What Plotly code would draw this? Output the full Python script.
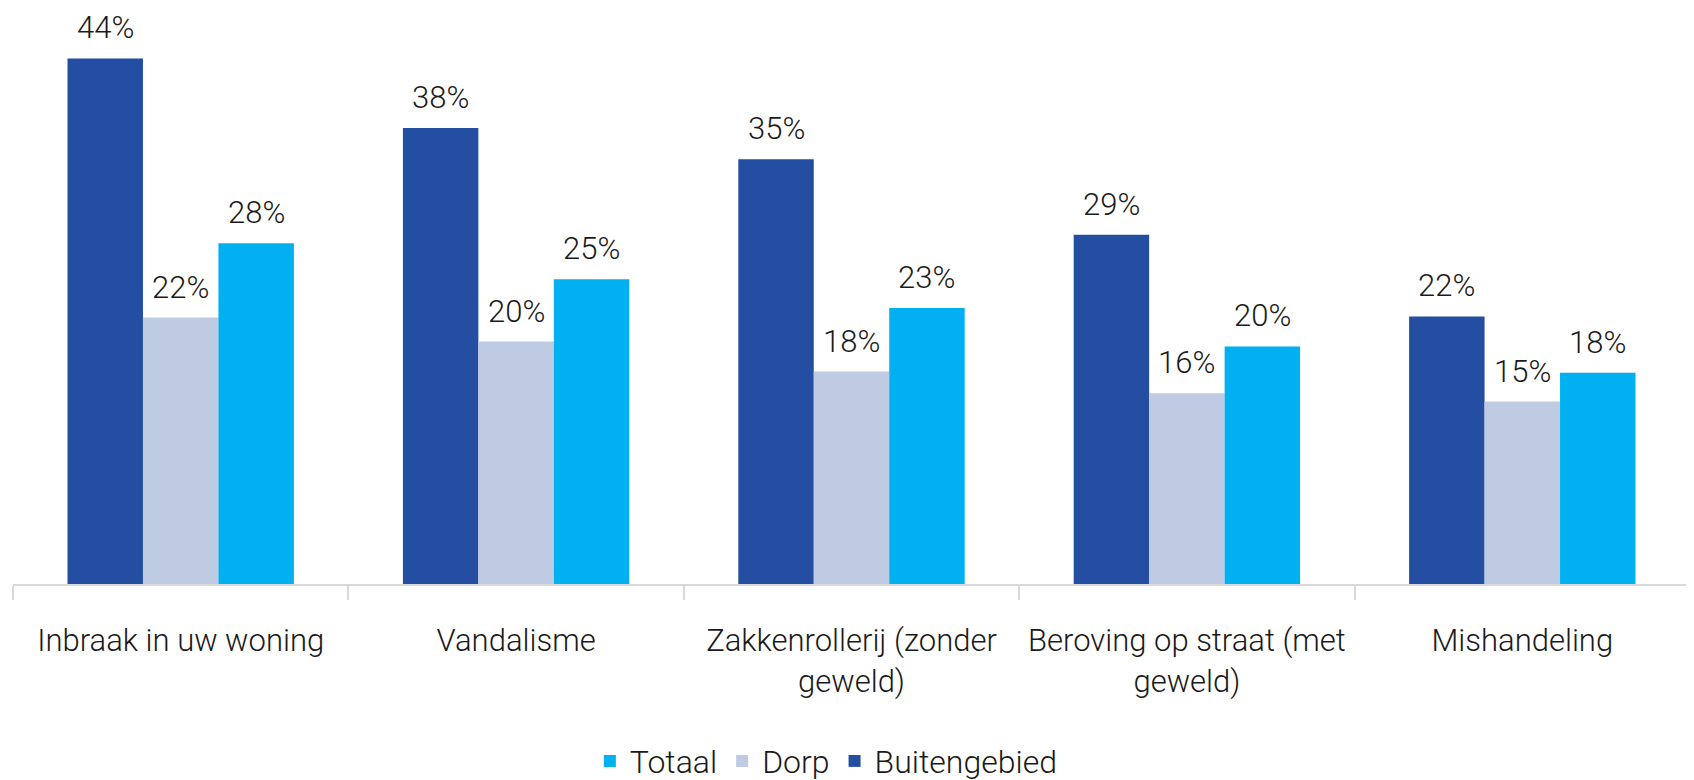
import plotly.graph_objects as go

categories = ["Inbraak in uw woning", "Vandalisme", "Zakkenrollerij (zonder<br>geweld)",
              "Beroving op straat (met<br>geweld)", "Mishandeling"]
buitengebied = [43.8, 38.0, 35.4, 29.1, 22.3]
dorp = [22.2, 20.2, 17.7, 15.9, 15.2]
totaal = [28.4, 25.4, 23.0, 19.8, 17.6]

FONT = "Roboto, Liberation Sans, sans-serif"
TXT = "#1a1a1a"
# page body has an 8px margin; figure sized to fit the 1694x780 window
W, H = 1686, 772
ML, MR, MT, MB = 5, 4, 12, 196
BARGAP = 0.325

series = [("Buitengebied", buitengebied, "#234EA1"),
          ("Dorp", dorp, "#BFCBE3"),
          ("Totaal", totaal, "#00B0F0")]

fig = go.Figure()
for name, vals, col in series:
    fig.add_trace(go.Bar(
        name=name, x=categories, y=vals, marker=dict(color=col, line=dict(width=0)),
        cliponaxis=False,
    ))

# value labels above bars, positioned from data + bar geometry
plot_w = W - ML - MR
bar_px = plot_w / len(categories) * (1 - BARGAP) / len(series)
for si, (name, vals, col) in enumerate(series):
    off = (si - (len(series) - 1) / 2) * bar_px
    for c, v in zip(categories, vals):
        fig.add_annotation(x=c, y=v, xref="x", yref="y", text=f"{v:.0f}%",
                           showarrow=False, yanchor="bottom", xshift=off, yshift=10,
                           font=dict(family=FONT, size=31, color=TXT, weight=300))

fig.update_layout(
    width=W, height=H,
    barmode="group", bargap=BARGAP, bargroupgap=0,
    plot_bgcolor="white", paper_bgcolor="white",
    margin=dict(l=ML, r=MR, t=MT, b=MB, autoexpand=False),
    font=dict(family=FONT, size=31, color=TXT, weight=300),
    xaxis=dict(showline=True, linecolor="#d9d9d9", linewidth=2, ticks="outside",
               tickson="boundaries", ticklen=14, tickcolor="#d9d9d9", tickwidth=2,
               tickangle=0, automargin=False, ticklabelstandoff=28,
               tickfont=dict(family=FONT, size=31, color=TXT, weight=300), showgrid=False),
    yaxis=dict(range=[0, 47.0], visible=False),
    showlegend=True,
    legend=dict(orientation="h", x=0.485, xanchor="center", y=-0.314, yanchor="middle",
                traceorder="reversed",
                font=dict(family=FONT, size=32, color=TXT, weight=300)),
)

fig.write_html("out.html")
